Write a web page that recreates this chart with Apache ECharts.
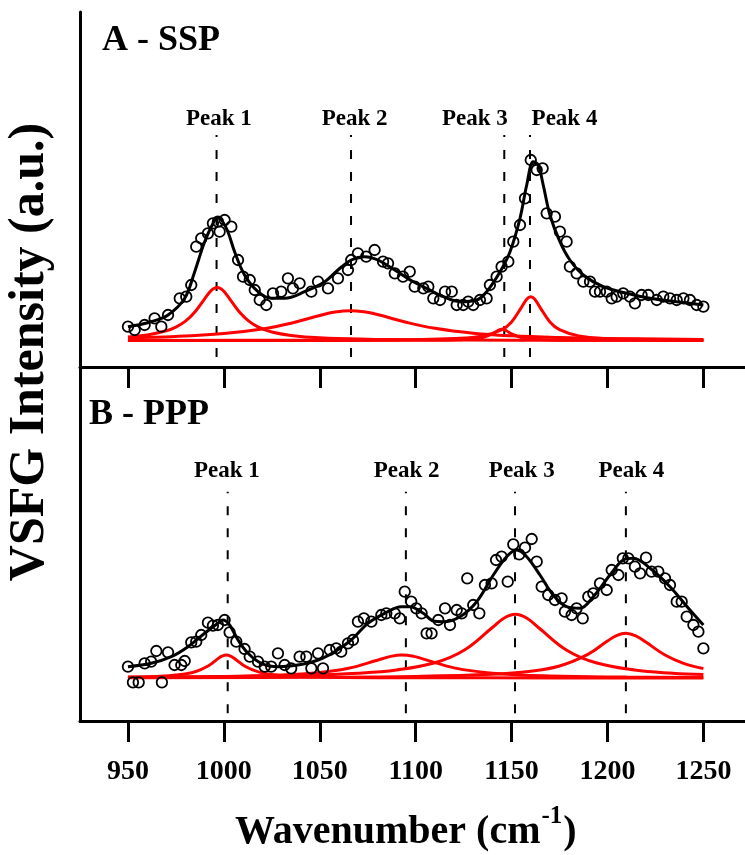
<!DOCTYPE html>
<html><head><meta charset="utf-8">
<script src="https://cdn.jsdelivr.net/npm/echarts@6.0.0/dist/echarts.min.js"></script>
<style>html,body{margin:0;padding:0;background:#fff}#c{width:745px;height:855px}</style>
</head><body><div id="c"></div>
<script>
// ---------- data ----------
const xTicks = [950, 1000, 1050, 1100, 1150, 1200, 1250];
const peakNames = ['Peak 1', 'Peak 2', 'Peak 3', 'Peak 4'];

// Panel A (SSP)
const dataA = [[950.0,40.3],[953.5,37],[958.7,42],[963.9,48.7],[967.4,40.3],[970.9,52],[977.0,68.7],[980.4,70.3],[983.0,82],[985.6,120.3],[988.2,128.7],[991.7,133.7],[994.3,143.7],[996.9,145.3],[997.8,135.3],[1000.4,147],[1003.9,140.3],[1007.4,107],[1010.0,90.3],[1013.5,87],[1016.1,77],[1018.7,67],[1022.1,62],[1025.6,73.7],[1029.9,75.3],[1033.4,88.7],[1036.0,78.7],[1039.5,83.7],[1045.6,75.3],[1049.1,85.3],[1054.3,78.7],[1059.5,88.7],[1064.7,97],[1066.4,107],[1069.9,113.7],[1074.2,110.3],[1078.6,117],[1083.0,105.3],[1085.6,103.7],[1089.1,93.7],[1093.4,90.3],[1096.9,95.3],[1099.5,80.3],[1104.0,78.7],[1106.6,80.3],[1109.2,68.7],[1112.7,67],[1115.3,75.3],[1118.8,75.3],[1121.4,62],[1124.8,62],[1127.4,65.3],[1130.0,62],[1133.5,67],[1137.0,68.7],[1138.7,82],[1142.2,90.3],[1144.8,100.3],[1148.3,105.3],[1150.9,125.3],[1154.4,142],[1157.0,168.7],[1160.0,207],[1163.1,197],[1166.2,198.7],[1168.3,153.7],[1172.6,150.3],[1175.2,135.3],[1178.7,125.3],[1180.4,100.3],[1183.9,93.7],[1187.4,85.3],[1190.9,85.3],[1193.5,75.3],[1196.1,75.3],[1199.6,75.3],[1202.2,68.7],[1204.8,70.3],[1208.2,73.7],[1211.7,70.3],[1214.3,63.7],[1217.8,72],[1221.3,72],[1225.7,67],[1229.1,70.3],[1232.6,68.7],[1236.1,67],[1239.6,68.7],[1243.0,67],[1246.5,62],[1250.0,60.3]];
const fitA = [[950,40.3],[962.1,45.3],[970.9,52],[979.6,68.7],[984.8,95.3],[990,125.3],[995,146],[997,149],[999,146.5],[1002.1,135.3],[1005.6,115.3],[1010.8,92],[1017.8,75.3],[1024.7,68.7],[1031.7,68.7],[1042.1,75.3],[1052.6,85.3],[1059.5,97],[1066.4,107],[1073.4,110.3],[1080.3,107],[1089.1,97],[1098.1,86],[1105.7,78.7],[1114.4,70.3],[1123.1,65.3],[1131.8,67],[1137,75.3],[1144,95.3],[1149.2,115.3],[1154.4,148.7],[1157.9,182],[1161.3,205.3],[1163.9,202],[1166.5,182],[1170,152],[1175.2,125.3],[1180.4,107],[1187.4,92],[1197.8,80.3],[1210,73.7],[1222.2,68.7],[1236.1,65.3],[1250,62]];
const peak1A = [[950,30.1],[960,32.1],[970,36.2],[975,39.9],[980,45.8],[985,55.2],[990,68.2],[993,75.7],[994.5,78.2],[996.5,79.5],[998.5,78.2],[1000,75.7],[1003,68.2],[1008,55.2],[1013,45.8],[1018,39.9],[1025,35.0],[1035,31.6],[1050,29.2],[1075,27.8],[1100,27.3],[1150,26.8],[1200,26.7],[1250,26.6]];
const peak2A = [[950,29.2],[975,30.6],[1000,33.5],[1020,38.0],[1035,43.8],[1050,51.5],[1058,54.9],[1066,56.3],[1073,55.2],[1080,52.5],[1095,44.8],[1110,38.7],[1130,33.8],[1150,31.2],[1175,29.5],[1200,28.6],[1250,27.6]];
const peak3A = [[950,26.5],[1100,26.7],[1120,27.1],[1130,28.0],[1135,29.5],[1140,33.1],[1142.5,36.0],[1145,37.7],[1147.5,36.0],[1150,33.1],[1155,29.5],[1160,28.0],[1170,27.1],[1190,26.7],[1250,26.6]];
const peak4A = [[950,26.6],[1050,26.8],[1100,27.4],[1120,28.4],[1135,31.1],[1145,37.3],[1150,45.1],[1155,59.2],[1158,68.1],[1160,70.3],[1162,68.1],[1165,59.2],[1170,45.1],[1175,37.3],[1185,31.1],[1200,28.4],[1225,27.3],[1250,26.9]];
const peaksA = [996.2, 1066.3, 1146.2, 1159.6];
const labelXA = [997.4, 1068.2, 1130.9, 1177.6];

// Panel B (PPP)
const dataB = [[950,54.3],[952.6,38.7],[955.6,38.7],[958.7,57.7],[962.1,59.3],[964.8,70],[967.7,38.7],[970.9,68.7],[974.3,56],[977.8,56],[979.6,60],[983.0,78.7],[985.6,79.3],[988.2,86],[991.7,98.3],[994.3,95.3],[996.9,96],[1000.4,101],[1003.0,88.7],[1006.5,79.3],[1010.8,72],[1013.5,64.3],[1017.8,59.3],[1021.3,54.3],[1024.7,54.3],[1028.2,67.7],[1031.7,56],[1035.1,52.7],[1039.5,64.3],[1043.0,64.3],[1045.6,52.7],[1049.1,67.7],[1051.7,52.7],[1055.2,71],[1058.6,72.7],[1061.2,69.3],[1064.7,77.7],[1067.3,81],[1069.9,99.3],[1073.0,102.7],[1076.9,99.3],[1082.1,106],[1084.7,107.7],[1089.1,107.7],[1091.7,102.7],[1094.3,129.3],[1097.7,119.3],[1100.3,112.7],[1103.1,107.7],[1105.7,87.7],[1108.3,87.7],[1111.8,101],[1115.3,112.7],[1117.9,96],[1121.4,111],[1124.0,107.7],[1126.9,142.7],[1130.0,116],[1133.2,107.7],[1136.1,136],[1139.6,137.7],[1141.9,161],[1144.8,164.3],[1148.0,139.3],[1150.9,176.7],[1154.0,166.7],[1157.0,173.3],[1160.5,182],[1163.1,159.3],[1165.7,134.3],[1169.1,126],[1172.6,121],[1176.1,122.7],[1177.8,109.3],[1181.3,106],[1183.9,112.7],[1187.1,102.7],[1190.0,124.3],[1192.6,127.7],[1196.1,137.7],[1199.6,131],[1202.2,151],[1205.7,146],[1208.0,162.7],[1210.9,162.7],[1214.3,154.3],[1217.0,147.7],[1220.1,163.3],[1223.0,149.3],[1226.5,149.3],[1230.0,142.7],[1232.6,136],[1236.1,119.3],[1238.7,119.3],[1241.3,104.3],[1244.8,96],[1247.4,89.3],[1250.0,72.7]];
const fitB = [[950,54.3],[962.1,57.7],[972.6,64.3],[981.3,74.3],[990,87.7],[996.9,97.7],[999.5,101],[1003,96],[1007.4,81],[1012.6,67.7],[1019.5,57.7],[1028.2,54.3],[1038.6,56],[1049.1,61],[1057.8,69.3],[1066.4,81],[1075.1,97.7],[1083.8,107.7],[1092.5,114.3],[1097,114.3],[1104,107.7],[1109.2,100],[1114.4,99.3],[1123.1,104.3],[1131.8,119.3],[1140.5,146],[1147.4,164.3],[1152.7,171],[1157.9,164.3],[1164.8,146],[1171.7,126],[1178.7,114.3],[1185.7,112.7],[1192.6,124.3],[1201.3,146],[1208.2,161],[1213.5,162.7],[1222.2,152.7],[1232.6,134.3],[1243,111],[1250,96]];
const peak1B = [[950,43.8],[965,44.6],[975,45.9],[985,49.3],[992,55.3],[997,62.4],[999,64.8],[1001.3,66],[1003.5,64.9],[1006,61.8],[1011,54.8],[1018,49.1],[1028,45.8],[1040,44.4],[1060,43.6],[1100,43.2],[1175,43.1],[1250,43.0]];
const peak2B = [[950,43.6],[1000,44.4],[1030,45.9],[1050,48.5],[1065,52.7],[1080,60.8],[1087,64.6],[1093,66],[1099,64.6],[1105,61.4],[1120,53.1],[1140,47.8],[1170,45.0],[1210,43.9],[1250,43.5]];
const peak3B = [[950,43.9],[1000,44.5],[1040,45.7],[1070,47.8],[1090,51.0],[1110,58.2],[1125,70.5],[1140,93.5],[1146,102.8],[1152,106.7],[1158,102.8],[1164,93.5],[1179,70.5],[1194,58.2],[1214,51.0],[1234,47.8],[1250,46.5]];
const peak4B = [[950,43.3],[1050,43.8],[1100,44.6],[1140,46.7],[1160,49.8],[1175,55.0],[1190,66.9],[1200,80.0],[1205,85.7],[1209.6,87.7],[1215,84.9],[1220,78.9],[1230,66.0],[1240,57.4],[1250,52.5]];
const peaksB = [1002, 1094.9, 1151.8, 1209.6];
const labelXB = [1001.6, 1095.3, 1155.3, 1212.5];

// ---------- chart ----------
const FONT = '"Liberation Serif", "Times New Roman", serif';
const RED = '#ff0000';
const chart = echarts.init(document.getElementById('c'), null, {renderer: 'canvas'});

function measure(txt, font) {
  const c = document.createElement('canvas').getContext('2d');
  c.font = font; return c.measureText(txt).width;
}

function xAxisCfg(grid, labels) {
  return {
    type: 'value', gridIndex: grid, min: 925, max: 1271.7,
    axisLine: {show: true, onZero: false, lineStyle: {color: '#000', width: 3}},
    axisTick: {show: true, inside: false, length: 21, customValues: xTicks, lineStyle: {color: '#000', width: 3}},
    axisLabel: labels ? {show: true, customValues: xTicks, formatter: v => String(v), color: '#000', fontFamily: FONT, fontWeight: 'bold', fontSize: 28, margin: 37} : {show: false},
    splitLine: {show: false}
  };
}
function yAxisCfg(grid, max) {
  return {
    type: 'value', gridIndex: grid, min: 0, max: max,
    axisLine: {show: true, onZero: false, lineStyle: {color: '#000', width: 3}},
    axisTick: {show: false}, axisLabel: {show: false}, splitLine: {show: false}
  };
}
function lineS(idx, data, color, width, smooth, z) {
  return {type: 'line', xAxisIndex: idx, yAxisIndex: idx, data: data, smooth: smooth, symbol: 'none', showSymbol: false,
    lineStyle: {color: color, width: width, opacity: 1}, z: z, silent: true};
}
function dashS(idx, x, lo, hi) {
  return {type: 'line', xAxisIndex: idx, yAxisIndex: idx, data: [[x, lo], [x, hi]], symbol: 'none', showSymbol: false,
    lineStyle: {color: '#000', width: 2, type: [9, 13]}, z: 1, silent: true};
}
function labelS(idx, xs, y) {
  return {type: 'scatter', xAxisIndex: idx, yAxisIndex: idx, symbolSize: 0, silent: true, z: 6,
    itemStyle: {opacity: 1},
    data: xs.map((x, i) => ({name: peakNames[i], value: [x, y]})),
    label: {show: true, position: 'inside', formatter: '{b}', color: '#000', opacity: 1, textBorderWidth: 0, fontFamily: FONT, fontWeight: 'bold', fontSize: 23}};
}
function circS(idx, data) {
  return {type: 'scatter', xAxisIndex: idx, yAxisIndex: idx, data: data, symbol: 'circle', symbolSize: 10.5, silent: true, z: 3,
    itemStyle: {color: 'rgba(0,0,0,0)', borderColor: '#000', borderWidth: 1.8, opacity: 1}};
}

const series = [];
[peak1A, peak2A, peak3A, peak4A].forEach(d => series.push(lineS(0, d, RED, 3, 0.4, 2)));
[peak1B, peak2B, peak3B, peak4B].forEach(d => series.push(lineS(1, d, RED, 3, 0.4, 2)));
peaksA.forEach(p => series.push(dashS(0, p, 10, 232)));
peaksB.forEach(p => series.push(dashS(1, p, 7.7, 229.3)));
series.push(circS(0, dataA), circS(1, dataB));
series.push(lineS(0, fitA, '#000', 3, 0.35, 4), lineS(1, fitB, '#000', 3, 0.35, 4));
series.push(labelS(0, labelXA, 247.8), labelS(1, labelXB, 249.8));

const titleFont = 'bold 40px ' + FONT;
const t1 = 'Wavenumber (cm';
const w1 = measure(t1, titleFont);
const w2 = measure('-1', 'bold 25px ' + FONT);
const tx0 = 235;

chart.setOption({
  animation: false,
  backgroundColor: '#fff',
  grid: [
    {left: 80, top: 12, width: 665, height: 355, outerBoundsMode: 'none'},
    {left: 80, top: 367, width: 665, height: 354, outerBoundsMode: 'none'}
  ],
  xAxis: [xAxisCfg(0, false), xAxisCfg(1, true)],
  yAxis: [yAxisCfg(0, 355), yAxisCfg(1, 354)],
  series: series,
  graphic: [
    {type: 'text', x: 102, y: 41, style: {text: 'A - SSP', font: 'bold 36px ' + FONT, fill: '#000', textAlign: 'left', textVerticalAlign: 'middle'}},
    {type: 'text', x: 89, y: 414.5, style: {text: 'B - PPP', font: 'bold 36px ' + FONT, fill: '#000', textAlign: 'left', textVerticalAlign: 'middle'}},
    {type: 'text', x: tx0, y: 832.5, style: {text: t1, font: titleFont, fill: '#000', textAlign: 'left', textVerticalAlign: 'middle'}},
    {type: 'text', x: tx0 + w1 + 1, y: 816.6, style: {text: '-1', font: 'bold 25px ' + FONT, fill: '#000', textAlign: 'left', textVerticalAlign: 'middle'}},
    {type: 'text', x: tx0 + w1 + w2 + 2, y: 832.5, style: {text: ')', font: titleFont, fill: '#000', textAlign: 'left', textVerticalAlign: 'middle'}},
    {type: 'text', x: 30, y: 352, rotation: Math.PI / 2, style: {text: 'VSFG Intensity (a.u.)', font: 'bold 50px ' + FONT, fill: '#000', textAlign: 'center', textVerticalAlign: 'middle'}}
  ]
});
</script>
</body></html>
